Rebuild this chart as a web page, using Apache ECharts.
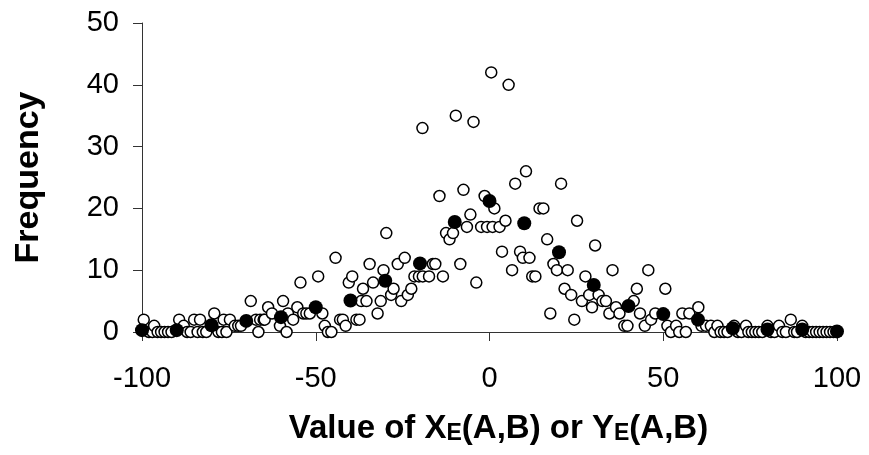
<!DOCTYPE html>
<html>
<head>
<meta charset="utf-8">
<script src="https://cdn.jsdelivr.net/npm/echarts@6/dist/echarts.min.js"></script>
<style>
  html, body { margin: 0; padding: 0; background: #fff; }
  #chart { width: 869px; height: 455px; }
</style>
</head>
<body>
<div id="chart"></div>
<script>
// open circles: individual frequencies
var openX = [
  -99.5, -98, -97, -96.5, -95.5, -94.5, -93.5, -92.5, -91.5,
  -89.3, -88, -87, -86, -85, -84, -83.3, -82.5, -81.5,
  -79.2, -78, -77, -76.5, -75.7, -74.7, -73.3, -72.3, -71.5,
  -68.7, -67.2, -66.5, -66, -65, -64.7, -63.7, -62.6,
  -60.3, -59.4, -58.4, -58, -56.5, -55.3, -54.4, -53.6, -52.7, -51.7,
  -49.3, -48.1, -47.4, -46.5, -45.5, -44.3, -43, -42.2, -41.4,
  -40.5, -39.5, -38.3, -37.4, -36.9, -36.4, -35.4, -34.5, -33.5, -32.2, -31.3, -30.5, -29.7,
  -28.3, -27.6, -26.4, -25.4, -24.4, -23.5, -22.5, -21.6, -20.3, -19.2, -17.4, -16.3, -15.6, -13.4,
  -19.3, -14.4, -12.5, -11.5, -10.5, -9.7, -8.4, -7.5, -6.5, -5.5, -4.6, -3.8,
  -2.4, -1.4, -0.7, 0.5, 0.9, 1.4, 2.9, 3.6, 4.6, 5.5, 6.5, 7.4, 8.8, 9.6,
  10.5, 11.5, 12.3, 13.2, 14.4, 15.5, 16.6, 17.5, 18.4, 19.4,
  20.6, 21.6, 22.5, 23.5, 24.4, 25.2, 26.6, 27.6, 28.7, 29.5,
  30.4, 31.4, 32.5, 33.5, 34.5, 35.4, 36.4, 37.4, 38.8, 39.7,
  41.5, 42.4, 43.3, 44.7, 45.7, 46.5, 47.7,
  50.6, 51.2, 52.2, 53.7, 54.6, 55.5, 56.5, 57.5, 60.1, 61,
  62.3, 63.7, 64.7, 65.6, 66.5, 67.5, 68.5,
  70.4, 71.5, 72.5, 73.8, 74.5, 75.5, 76.5, 77.5, 78.5,
  80, 81, 82, 83.3, 84.3, 85.3, 86.7, 87.7, 88.5,
  90, 91, 92, 93, 94, 95, 96, 97, 98, 99
];
var openY = [
  2, 0, 0, 1, 0, 0, 0, 0, 0,
  2, 1, 0, 0, 2, 0, 2, 0, 0,
  3, 0, 0, 2, 0, 2, 1, 1, 1,
  5, 2, 0, 2, 2, 2, 4, 3,
  1, 5, 0, 3, 2, 4, 8, 3, 3, 3,
  9, 3, 1, 0, 0, 12, 2, 2, 1,
  8, 9, 2, 2, 5, 7, 5, 11, 8, 3, 5, 10, 16,
  6, 7, 11, 5, 12, 6, 7, 9, 9, 9, 9, 11, 11, 9,
  33, 22, 16, 15, 16, 35, 11, 23, 17, 19, 34, 8,
  17, 22, 17, 42, 17, 20, 17, 13, 18, 40, 10, 24, 13, 12,
  26, 12, 9, 9, 20, 20, 15, 3, 11, 10,
  24, 7, 10, 6, 2, 18, 5, 9, 6, 4,
  14, 6, 5, 5, 3, 10, 4, 3, 1, 1,
  5, 7, 3, 1, 10, 2, 3,
  7, 1, 0, 1, 0, 3, 0, 3, 4, 1,
  1, 1, 0, 1, 0, 0, 0,
  1, 0, 0, 1, 0, 0, 0, 0, 0,
  1, 0, 0, 1, 0, 0, 2, 0, 0,
  1, 0, 0, 0, 0, 0, 0, 0, 0, 0
];
// filled circles: averages every 10 units
var avgX = [-100, -90, -80, -70, -60, -50, -40, -30, -20, -10, 0, 10, 20, 30, 40, 50, 60, 70, 80, 90, 100];
var avgY = [0.3, 0.3, 1.1, 1.8, 2.4, 4.0, 5.1, 8.3, 11.1, 17.8, 21.2, 17.6, 12.9, 7.6, 4.2, 2.9, 2.0, 0.6, 0.4, 0.4, 0.1];

var xTicks = [-100, -50, 0, 50, 100];
var yTicks = [0, 10, 20, 30, 40, 50];

function pairs(xs, ys) {
  var out = [];
  for (var i = 0; i < xs.length; i++) out.push([xs[i], ys[i]]);
  return out;
}

var chart = echarts.init(document.getElementById('chart'));
var fontFam = '"Liberation Sans", Arial, sans-serif';
var axisLine = { show: true, onZero: false, lineStyle: { color: '#333', width: 1 } };

chart.setOption({
  animation: false,
  grid: { left: 142, right: 32, top: 23, bottom: 123 },
  xAxis: {
    type: 'value',
    min: xTicks[0], max: xTicks[xTicks.length - 1], interval: 50,
    axisLine: axisLine,
    axisTick: { show: true, length: 9, lineStyle: { color: '#333' } },
    splitLine: { show: false },
    axisLabel: { fontSize: 29, color: '#000', fontFamily: fontFam, margin: 32 },
    name: '{b|Value of X}{s|E}{b|(A,B) or Y}{s|E}{b|(A,B)}',
    nameLocation: 'middle',
    nameGap: 80,
    nameTextStyle: {
      padding: [0, 0, 0, 18],
      rich: {
        b: { fontSize: 33, fontWeight: 'bold', color: '#000', fontFamily: fontFam, lineHeight: 34, verticalAlign: 'top' },
        s: { fontSize: 23, fontWeight: 'bold', color: '#000', fontFamily: fontFam, lineHeight: 34, verticalAlign: 'top', padding: [10, 0, 0, 0] }
      }
    }
  },
  yAxis: {
    type: 'value',
    min: yTicks[0], max: yTicks[yTicks.length - 1], interval: 10,
    axisLine: axisLine,
    axisTick: { show: true, length: 9, lineStyle: { color: '#333' } },
    splitLine: { show: false },
    axisLabel: { fontSize: 29, color: '#000', fontFamily: fontFam, margin: 23 },
    name: 'Frequency',
    nameLocation: 'middle',
    nameGap: 96,
    nameTextStyle: { fontSize: 34, fontWeight: 'bold', color: '#000', fontFamily: fontFam }
  },
  series: [
    {
      type: 'scatter',
      data: pairs(openX, openY),
      symbol: 'circle',
      symbolSize: 11,
      clip: false,
      itemStyle: { color: '#fff', borderColor: '#000', borderWidth: 1.5, opacity: 1 }
    },
    {
      type: 'scatter',
      data: pairs(avgX, avgY),
      symbol: 'circle',
      symbolSize: 14,
      clip: false,
      itemStyle: { color: '#000', opacity: 1 }
    }
  ]
});
</script>
</body>
</html>
